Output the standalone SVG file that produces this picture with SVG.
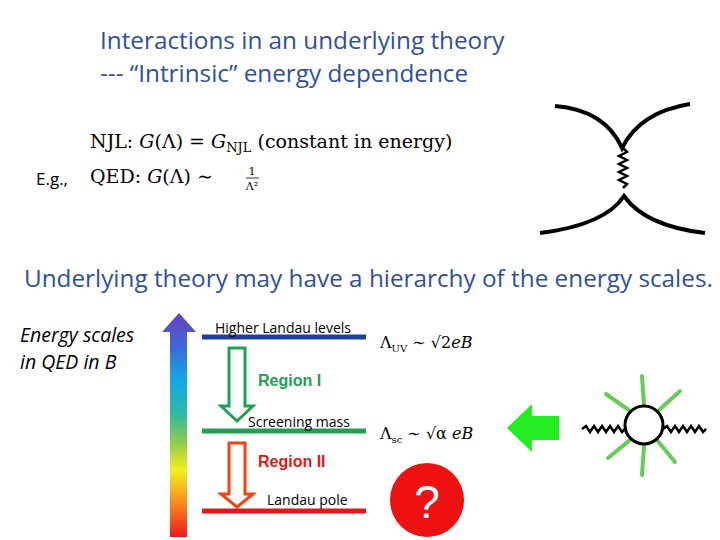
<svg xmlns="http://www.w3.org/2000/svg" width="720" height="540" viewBox="0 0 720 540">
<defs>
<linearGradient id="rb" x1="0" y1="0" x2="0" y2="1">
<stop offset="0" stop-color="#6a3fbf"/><stop offset="0.15" stop-color="#3a6ad8"/><stop offset="0.3" stop-color="#14a8e8"/><stop offset="0.45" stop-color="#30b8a0"/><stop offset="0.6" stop-color="#a0d040"/><stop offset="0.7" stop-color="#f0f020"/><stop offset="0.82" stop-color="#f8a020"/><stop offset="1" stop-color="#f01818"/>
</linearGradient>
<style>
.s{font-family:"Open Sans","DejaVu Sans",sans-serif;fill:#000}
.m{font-family:"DejaVu Serif","Liberation Serif",serif;fill:#000}
.b{font-family:"Liberation Sans",sans-serif;font-weight:bold}
.w{fill:none;stroke:#000;stroke-width:2.5}
.g{fill:none;stroke:#66cc55;stroke-width:4;stroke-linecap:round}
</style>
</defs>
<text class="s" x="100" y="49" font-size="24.3" style="fill:#2f4f9f">Interactions in an underlying theory</text>
<text class="s" x="100" y="82" font-size="24.3" style="fill:#2f4f9f">--- “Intrinsic” energy dependence</text>
<text class="m" x="90" y="148" font-size="19">NJL: <tspan font-style="italic">G</tspan>(Λ) = <tspan font-style="italic">G</tspan><tspan font-size="13" dy="4">NJL</tspan><tspan dy="-4"> (constant in energy)</tspan></text>
<text class="s" x="36" y="185" font-size="17">E.g.,</text>
<text class="m" x="90" y="183" font-size="19">QED: <tspan font-style="italic">G</tspan>(Λ) ∼</text>
<text class="m" x="252" y="175" font-size="11" text-anchor="middle">1</text>
<line x1="246" y1="178" x2="259" y2="178" stroke="#000" stroke-width="0.8"/>
<text class="m" x="252" y="190" font-size="11" text-anchor="middle">Λ²</text>
<g id="fourpoint" class="w" style="stroke-width:4">
<path d="M555,106 Q605,110 622,148 Q640,112 690,104"/>
<path d="M540,233 Q605,225 624,196 Q645,226 705,233"/>
<path d="M623,148 l4,4 l-8,4 l8,4 l-8,4 l8,4 l-8,4 l8,4 l-8,4 l8,4 l-4,4" style="stroke-width:2.5"/>
</g>
<text class="s" x="24" y="287" font-size="24.3" style="fill:#2f4f9f">Underlying theory may have a hierarchy of the energy scales.</text>
<text class="s" x="20" y="342" font-size="19.5" font-style="italic">Energy scales</text>
<text class="s" x="20" y="369" font-size="19.5" font-style="italic">in QED in B</text>
<g id="scale"><polygon points="170,537 170,332 162,332 179,313 196,332 187,332 187,537" fill="url(#rb)"/></g>
<g id="levels">
<line x1="202" y1="337" x2="366" y2="337" stroke="#1f3fa0" stroke-width="5"/>
<text class="s" x="215" y="333" font-size="14">Higher Landau levels</text>
<line x1="202" y1="431" x2="366" y2="431" stroke="#20a050" stroke-width="5"/>
<text class="s" x="248" y="427" font-size="14">Screening mass</text>
<line x1="202" y1="511" x2="366" y2="511" stroke="#e01818" stroke-width="5"/>
<text class="s" x="267" y="505" font-size="14">Landau pole</text>
<polygon points="229,348 245,348 245,406 253,406 237,421 221,406 229,406" fill="#fff" stroke="#20a050" stroke-width="3"/>
<text class="b" x="258" y="386" font-size="16" fill="#20a050">Region I</text>
<polygon points="229,443 245,443 245,494 253,494 237,507 221,494 229,494" fill="#fff" stroke="#ee4411" stroke-width="3"/>
<text class="b" x="258" y="467" font-size="16" fill="#e01818">Region II</text>
<text class="m" x="380" y="348" font-size="16">Λ<tspan font-size="10" dy="4">UV</tspan><tspan dy="-4"> ∼ √2<tspan font-style="italic">eB</tspan></tspan></text>
<text class="m" x="380" y="439" font-size="16">Λ<tspan font-size="10" dy="4">sc</tspan><tspan dy="-4"> ∼ √α <tspan font-style="italic">eB</tspan></tspan></text>
</g>
<g id="question"><circle cx="427" cy="500" r="37" fill="#ee1111"/><text x="427" y="518" font-size="46" text-anchor="middle" fill="#fff" font-family="Liberation Sans,sans-serif">?</text></g>
<g id="bigarrow"><polygon points="507,428 532,404 532,416 559,416 559,440 532,440 532,452" fill="#22ee22"/></g>
<g id="bubble">
<g class="g">
<line x1="644" y1="405" x2="642" y2="376"/><line x1="644" y1="446" x2="642" y2="475"/>
<line x1="630" y1="411" x2="606" y2="394"/><line x1="658" y1="411" x2="680" y2="391"/>
<line x1="630" y1="440" x2="608" y2="458"/><line x1="657" y1="440" x2="675" y2="462"/>
</g>
<circle cx="644" cy="425" r="19" fill="#fff" stroke="#000" stroke-width="3"/>
<path class="w" d="M582,429 l4,-3 l4,6 l4,-6 l4,6 l4,-6 l4,6 l4,-6 l4,6 l4,-6 l4,6 l3,-3"/>
<path class="w" d="M663,429 l4,-3 l4,6 l4,-6 l4,6 l4,-6 l4,6 l4,-6 l4,6 l4,-6 l4,6 l3,-3"/>
</g>
</svg>
